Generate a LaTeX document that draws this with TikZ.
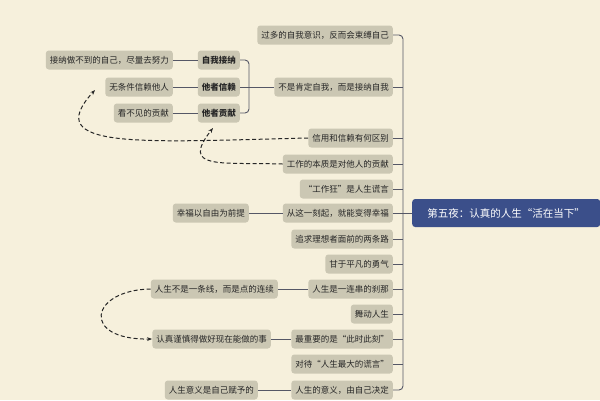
\documentclass[tikz,border=0pt]{standalone}
\usepackage{fontspec}
\newfontfamily\cjk{Noto Sans CJK SC}
\usetikzlibrary{arrows.meta}
\definecolor{paper}{HTML}{F6F0DC}
\definecolor{chip}{HTML}{CBC7B3}
\definecolor{wire}{HTML}{555766}
\definecolor{rootblue}{HTML}{3B4F8A}
\tikzset{
  topic/.style={fill=chip, rounded corners=3pt, inner xsep=4pt, minimum height=19pt, font=\cjk\fontsize{8.5}{10}\selectfont, text=black!85},
  bold topic/.style={topic, font=\cjk\bfseries\fontsize{8.5}{10}\selectfont},
  link/.style={draw=wire, line width=0.9pt},
  jump/.style={draw=black!85, line width=1pt, dashed, dash pattern=on 4pt off 2.5pt, -{Stealth[length=5pt]}}
}
\begin{document}
\begin{tikzpicture}[x=1pt,y=-1pt]
    \fill[paper] (0,0) rectangle (600,400);
    \useasboundingbox (0,0) rectangle (600,400);

    % Root
    \node[fill=rootblue, rounded corners=3pt, text=white, minimum height=28pt, minimum width=188pt, font=\cjk\fontsize{10.5}{12}\selectfont, anchor=west] (root) at (412,213) {第五夜：认真的人生“活在当下”};

    % Main branches
    \node[topic, anchor=east] (a1) at (393,35) {过多的自我意识，反而会束缚自己};
    \node[topic, anchor=east] (a2) at (393,87) {不是肯定自我，而是接纳自我};
    \node[topic, anchor=east] (a3) at (393,138) {信用和信赖有何区别};
    \node[topic, anchor=east] (a4) at (393,164) {工作的本质是对他人的贡献};
    \node[topic, anchor=east] (a5) at (393,189) {“工作狂”是人生谎言};
    \node[topic, anchor=east] (a6) at (393,213) {从这一刻起，就能变得幸福};
    \node[topic, anchor=east] (a7) at (393,239) {追求理想者面前的两条路};
    \node[topic, anchor=east] (a8) at (393,264) {甘于平凡的勇气};
    \node[topic, anchor=east] (a9) at (393,289) {人生是一连串的刹那};
    \node[topic, anchor=east] (a10) at (393,314) {舞动人生};
    \node[topic, anchor=east] (a11) at (393,339) {最重要的是“此时此刻”};
    \node[topic, anchor=east] (a12) at (393,364) {对待“人生最大的谎言”};
    \node[topic, anchor=east] (a13) at (393,390) {人生的意义，由自己决定};

    % Sub branches
    \node[bold topic, anchor=east] (b1) at (240,60) {自我接纳};
    \node[bold topic, anchor=east] (b2) at (240,87) {他者信赖};
    \node[bold topic, anchor=east] (b3) at (240,113) {他者贡献};
    \node[topic, anchor=east] (c1) at (173,60) {接纳做不到的自己，尽量去努力};
    \node[topic, anchor=east] (c2) at (173,87) {无条件信赖他人};
    \node[topic, anchor=east] (c3) at (173,113) {看不见的贡献};
    \node[topic, anchor=east] (d6) at (249,213) {幸福以自由为前提};
    \node[topic, anchor=east] (d9) at (278,289) {人生不是一条线，而是点的连续};
    \node[topic, anchor=east] (d11) at (271,339) {认真谨慎得做好现在能做的事};
    \node[topic, anchor=east] (d13) at (258,390) {人生意义是自己赋予的};

    % Bus
    \coordinate (top) at (403,35);
    \coordinate (bottom) at (403,390);
    \draw[link, rounded corners=4pt] (a1.east) -- (top) -- (bottom) -- (a13.east);
    \foreach \n in {a2,a3,a4,a5,a6,a7,a8,a9,a10,a11,a12}
        \draw[link] (\n.east) -- (\n.east -| top);
    \draw[link] (a6.east -| top) -- (root.west);

    % Bracket
    \coordinate (fork) at (249,87);
    \draw[link, rounded corners=4pt] (b1.east) -- (b1.east -| fork) -- (b3.east -| fork) -- (b3.east);
    \draw[link] (b2.east) -- (a2.west);
    \draw[link] (c1) -- (b1);
    \draw[link] (c2) -- (b2);
    \draw[link] (c3) -- (b3);
    \draw[link] (d6) -- (a6);
    \draw[link] (d9) -- (a9);
    \draw[link] (d11) -- (a11);
    \draw[link] (d13) -- (a13);

    % Jumps
    \draw[jump] (a3.west) .. controls (140,142) and (40,150) .. (95,90);
    \draw[jump] (a4.west) .. controls (220,162) and (180,170) .. (213,128);
    \draw[jump] (d9.west) .. controls (90,290) and (80,340) .. (d11.west);
\end{tikzpicture}
\end{document}
